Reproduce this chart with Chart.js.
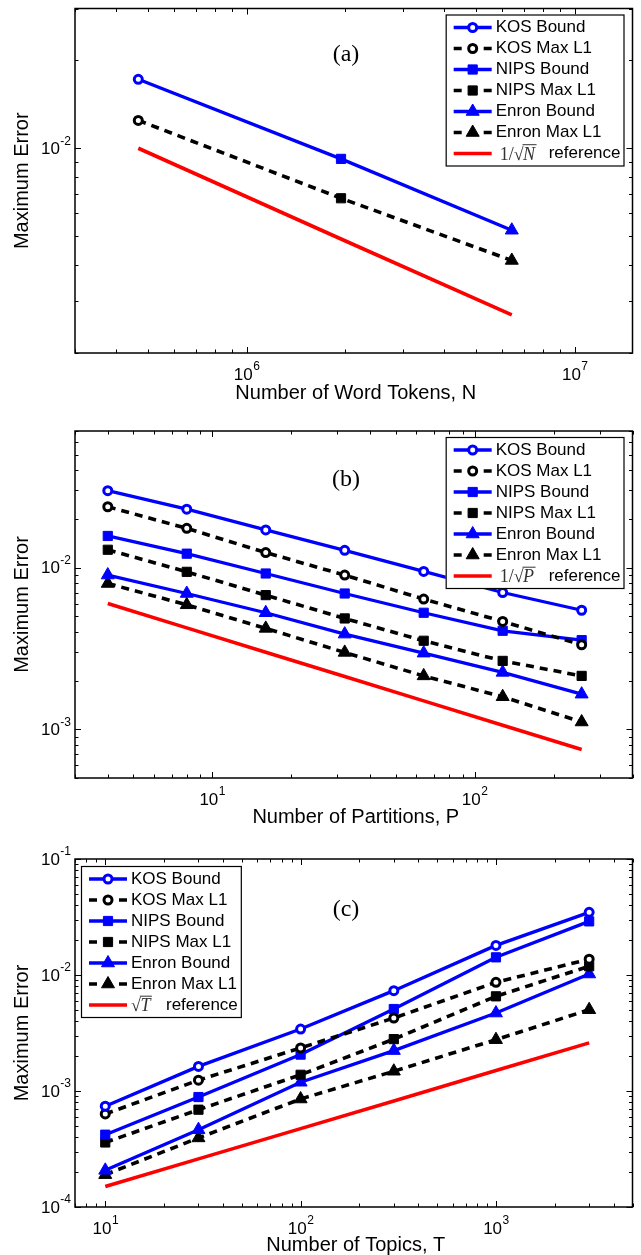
<!DOCTYPE html>
<html>
<head>
<meta charset="utf-8">
<script src="https://cdn.jsdelivr.net/npm/chart.js@4.4.0/dist/chart.umd.min.js"></script>
<style>
  body { margin: 0; background: #fff; width: 641px; height: 1255px; overflow: hidden; position: relative; }
  .panel { position: absolute; left: 0; width: 641px; }
</style>
</head>
<body>
<div class="panel" style="top:0;height:410px"><canvas id="chartA"></canvas></div>
<div class="panel" style="top:400px;height:430px"><canvas id="chartB"></canvas></div>
<div class="panel" style="top:820px;height:435px"><canvas id="chartC"></canvas></div>
<script>
// (a) error vs number of word tokens (KOS, NIPS, Enron)
let tokensN = [467714, 1940000, 6430000];
let boundA = [0.0172, 0.0092, 0.00525];
let maxL1A = [0.01245, 0.00675, 0.00414];
let refA = [0.0100, 0.0049, 0.0027];

// (b) error vs number of partitions
let partitionsP = [4, 8, 16, 32, 64, 128, 256];
let kosBoundB = [0.0299, 0.0230, 0.0171, 0.0128, 0.00947, 0.00702, 0.00545];
let kosMaxB = [0.0238, 0.0175, 0.0124, 0.00899, 0.00639, 0.00465, 0.00333];
let nipsBoundB = [0.0157, 0.0122, 0.0092, 0.00692, 0.00526, 0.00407, 0.00356];
let nipsMaxB = [0.0129, 0.00942, 0.00676, 0.00485, 0.00353, 0.00265, 0.00214];
let enronBoundB = [0.0090, 0.00692, 0.00526, 0.00388, 0.00296, 0.00225, 0.00165];
let enronMaxB = [0.00798, 0.00589, 0.00421, 0.00299, 0.00214, 0.00159, 0.00111];
let refB = [0.0060, 0.00424, 0.0030, 0.00212, 0.0015, 0.00106, 0.00075];

// (c) error vs number of topics
let topicsT = [10, 30, 100, 300, 1000, 3000];
let kosBoundC = [0.00074, 0.00163, 0.00342, 0.00733, 0.0180, 0.0347];
let kosMaxC = [0.000634, 0.00124, 0.00235, 0.00426, 0.00865, 0.0137];
let nipsBoundC = [0.00042, 0.000887, 0.00206, 0.00509, 0.0142, 0.0290];
let nipsMaxC = [0.00036, 0.00069, 0.00138, 0.0028, 0.00655, 0.0119];
let enronBoundC = [0.000207, 0.000464, 0.00119, 0.00223, 0.0047, 0.0102];
let enronMaxC = [0.00019, 0.000394, 0.000853, 0.00148, 0.00277, 0.00502];
let refC = [0.00015, 0.00026, 0.000474, 0.00082, 0.0015, 0.0026];

// axis ranges
let xRangeA = [3e5, 1.5e7], yRangeA = [2e-3, 3e-2];
let xRangeB = [3, 400], yRangeB = [5e-4, 7e-2];
let xRangeC = [7, 5000], yRangeC = [1e-4, 1e-1];

let legendLabels = ["KOS Bound", "KOS Max L1", "NIPS Bound", "NIPS Max L1", "Enron Bound", "Enron Max L1", "reference"];

const BLUE = "#0000ff", BLACK = "#000000", RED = "#ff0000";
const SANS = '"Liberation Sans", Arial, sans-serif';
const SERIF = '"Liberation Serif", "Times New Roman", serif';

// line + marker look for each legend entry
let styles = [
    {color: BLUE, dash: [], point: "circle"},
    {color: BLACK, dash: [8, 6], point: "circle"},
    {color: BLUE, dash: [], point: "rect"},
    {color: BLACK, dash: [8, 6], point: "rect"},
    {color: BLUE, dash: [], point: "triangle"},
    {color: BLACK, dash: [8, 6], point: "triangle"},
    {color: RED, dash: [], point: null}
];

function markerOpts(point, color) {
    if (point === "circle") return {r: 4, bw: 3, bg: "#ffffff"};
    if (point === "rect") return {r: 6.5, bw: 1, bg: color};
    if (point === "triangle") return {r: 7.5, bw: 1, bg: color};
    return {r: 0, bw: 0, bg: color};
}

function lineWidthFor(s) {
    return s.color === BLUE ? 3.3 : 3.6;
}

// one dataset from x/y arrays and a style
function series(xs, ys, s) {
    let m = markerOpts(s.point, s.color);
    return {
        data: xs.map((x, i) => ({x: x, y: ys[i]})),
        borderColor: s.color,
        borderWidth: lineWidthFor(s),
        borderDash: s.dash,
        pointStyle: s.point || "circle",
        pointRadius: m.r,
        pointBorderWidth: m.bw,
        pointBackgroundColor: m.bg,
        pointBorderColor: s.color,
        tension: 0,
        fill: false
    };
}

// (a) has one point per corpus joined by one line, markers change per point
function mixedSeries(xs, ys, s, points) {
    let d = series(xs, ys, s);
    let ms = points.map(p => markerOpts(p, s.color));
    d.pointStyle = points;
    d.pointRadius = ms.map(m => m.r);
    d.pointBorderWidth = ms.map(m => m.bw);
    d.pointBackgroundColor = ms.map(m => m.bg);
    return d;
}

function logTicks(min, max) {
    let out = [];
    for (let k = Math.floor(Math.log10(min)); k <= Math.ceil(Math.log10(max)); k++) {
        for (let m = 1; m <= 9; m++) {
            let v = m * Math.pow(10, k);
            if (v >= min * 0.999 && v <= max * 1.001) out.push({v: v, major: m === 1, k: k});
        }
    }
    return out;
}

function drawMarker(ctx, point, color, x, y) {
    let m = markerOpts(point, color);
    ctx.save();
    ctx.setLineDash([]);
    ctx.fillStyle = m.bg;
    ctx.strokeStyle = color;
    ctx.lineWidth = m.bw;
    ctx.beginPath();
    if (point === "circle") {
        ctx.arc(x, y, m.r, 0, Math.PI * 2);
    } else if (point === "rect") {
        let h = Math.SQRT1_2 * m.r;
        ctx.rect(x - h, y - h, 2 * h, 2 * h);
    } else if (point === "triangle") {
        let a = 0;
        ctx.moveTo(x + Math.sin(a) * m.r, y - Math.cos(a) * m.r);
        a += Math.PI * 2 / 3;
        ctx.lineTo(x + Math.sin(a) * m.r, y - Math.cos(a) * m.r);
        a += Math.PI * 2 / 3;
        ctx.lineTo(x + Math.sin(a) * m.r, y - Math.cos(a) * m.r);
        ctx.closePath();
    }
    ctx.fill();
    ctx.stroke();
    ctx.restore();
}

// offset of the word "reference" after the math part
function refOffset(one) {
    return one ? 53 : 35;
}

// "1/sqrt(N)" style label followed by "reference"
function drawRefLabel(ctx, x, y, one, letter) {
    ctx.save();
    ctx.fillStyle = "#333";
    ctx.textBaseline = "alphabetic";
    let base = y + 6;
    let cx = x;
    ctx.font = "18px " + SERIF;
    if (one) {
        cx += 4;
        ctx.fillText("1/", cx, base);
        cx += ctx.measureText("1/").width;
    }
    ctx.fillText("\u221A", cx, base);
    let sw = ctx.measureText("\u221A").width;
    cx += sw - 0.5;
    ctx.font = "italic 18px " + SERIF;
    let lw = ctx.measureText(letter).width;
    ctx.fillText(letter, cx, base);
    ctx.strokeStyle = "#333";
    ctx.lineWidth = 1;
    ctx.beginPath();
    ctx.moveTo(cx - 0.5, base - 14.8);
    ctx.lineTo(cx + lw + 1.5, base - 14.8);
    ctx.stroke();
    ctx.fillStyle = "#000";
    ctx.font = "17px " + SANS;
    ctx.textBaseline = "middle";
    ctx.fillText("reference", x + refOffset(one), y);
    ctx.restore();
}

const matlabAxes = {
    id: "matlabAxes",
    afterDatasetsDraw(chart, args, opts) {
        const ctx = chart.ctx;
        const a = chart.chartArea;
        const xs = chart.scales.x, ys = chart.scales.y;
        ctx.save();

        // box
        ctx.strokeStyle = "#000";
        ctx.lineWidth = 1.5;
        ctx.setLineDash([]);
        ctx.strokeRect(a.left, a.top, a.right - a.left, a.bottom - a.top);

        // ticks inside on all four sides
        ctx.lineWidth = 1;
        ctx.beginPath();
        logTicks(xs.min, xs.max).forEach(t => {
            let px = Math.round(xs.getPixelForValue(t.v)) + 0.5;
            let len = t.major ? 6 : 3.5;
            ctx.moveTo(px, a.bottom); ctx.lineTo(px, a.bottom - len);
            ctx.moveTo(px, a.top); ctx.lineTo(px, a.top + len);
        });
        logTicks(ys.min, ys.max).forEach(t => {
            let py = Math.round(ys.getPixelForValue(t.v)) + 0.5;
            let len = t.major ? 6 : 3.5;
            ctx.moveTo(a.left, py); ctx.lineTo(a.left + len, py);
            ctx.moveTo(a.right, py); ctx.lineTo(a.right - len, py);
        });
        ctx.stroke();

        // decade labels 10^k
        ctx.fillStyle = "#000";
        ctx.textBaseline = "middle";
        logTicks(xs.min, xs.max).filter(t => t.major).forEach(t => {
            let px = xs.getPixelForValue(t.v);
            ctx.font = "17px " + SANS;
            let wb = ctx.measureText("10").width;
            ctx.font = "12px " + SANS;
            let we = ctx.measureText(String(t.k)).width;
            let left = px - (wb + we) / 2;
            ctx.font = "17px " + SANS;
            ctx.textAlign = "left";
            ctx.fillText("10", left, a.bottom + 22);
            ctx.font = "12px " + SANS;
            ctx.fillText(String(t.k), left + wb + 0.5, a.bottom + 14);
        });
        logTicks(ys.min, ys.max).filter(t => t.major).forEach(t => {
            let py = ys.getPixelForValue(t.v);
            ctx.font = "12px " + SANS;
            let we = ctx.measureText(String(t.k)).width;
            let right = a.left - 4;
            ctx.textAlign = "left";
            ctx.fillText(String(t.k), right - we, py - 7);
            ctx.textAlign = "right";
            ctx.font = "17px " + SANS;
            ctx.fillText("10", right - we - 0.5, py + 1);
        });

        // axis titles
        ctx.font = "20px " + SANS;
        ctx.textAlign = "center";
        ctx.fillText(opts.xTitle, (a.left + a.right) / 2 + 2, opts.xTitleY);
        ctx.save();
        ctx.translate(22, (a.top + a.bottom) / 2);
        ctx.rotate(-Math.PI / 2);
        ctx.fillText("Maximum Error", 0, 0);
        ctx.restore();

        // panel tag
        ctx.font = "24px " + SERIF;
        ctx.fillText(opts.panel, 346, opts.panelY);

        // legend
        ctx.font = "17px " + SANS;
        let textW = 0;
        legendLabels.slice(0, 6).forEach(l => { textW = Math.max(textW, ctx.measureText(l).width); });
        textW = Math.max(textW, refOffset(opts.refOne) + ctx.measureText("reference").width);
        let bw = 8 + 38 + 4 + textW + 3;
        let bh = 151;
        let bx = opts.legend === "ne" ? a.right - 9 - bw : a.left + 6;
        let by = opts.legend === "ne" ? a.top + 6 : a.top + 7;
        ctx.fillStyle = "#fff";
        ctx.fillRect(bx, by, bw, bh);
        ctx.strokeStyle = "#000";
        ctx.lineWidth = 1.2;
        ctx.strokeRect(bx + 0.5, by + 0.5, bw, bh);
        legendLabels.forEach((label, i) => {
            let s = styles[i];
            let cy = by + 13 + i * 21;
            let x0 = bx + 8, x1 = x0 + 38;
            ctx.strokeStyle = s.color;
            ctx.lineWidth = lineWidthFor(s);
            ctx.beginPath();
            if (s.dash.length) {
                ctx.moveTo(x0, cy); ctx.lineTo(x0 + 8, cy);
                ctx.moveTo(x1 - 8, cy); ctx.lineTo(x1, cy);
            } else {
                ctx.moveTo(x0, cy); ctx.lineTo(x1, cy);
            }
            ctx.stroke();
            if (s.point) drawMarker(ctx, s.point, s.color, (x0 + x1) / 2, cy);
            ctx.fillStyle = "#000";
            ctx.textAlign = "left";
            ctx.textBaseline = "middle";
            ctx.font = "17px " + SANS;
            if (s.point) {
                ctx.fillText(label, x1 + 4, cy);
            } else {
                drawRefLabel(ctx, x1 + 4, cy, opts.refOne, opts.refLetter);
            }
        });
        ctx.restore();
    }
};

function makeChart(id, datasets, xr, yr, pad, extra) {
    return new Chart(document.getElementById(id), {
        type: "line",
        data: {datasets: datasets},
        options: {
            animation: false,
            responsive: true,
            maintainAspectRatio: false,
            layout: {padding: pad},
            scales: {
                x: {type: "logarithmic", min: xr[0], max: xr[1], display: false},
                y: {type: "logarithmic", min: yr[0], max: yr[1], display: false}
            },
            plugins: {
                legend: {display: false},
                tooltip: {enabled: false},
                matlabAxes: extra
            }
        },
        plugins: [matlabAxes]
    });
}

// (a)
makeChart("chartA", [
    mixedSeries(tokensN, boundA, styles[0], ["circle", "rect", "triangle"]),
    mixedSeries(tokensN, maxL1A, styles[1], ["circle", "rect", "triangle"]),
    series(tokensN, refA, styles[6])
], xRangeA, yRangeA, {left: 75, right: 4, top: 6, bottom: 57},
    {panel: "(a)", panelY: 55, xTitle: "Number of Word Tokens, N", xTitleY: 393, legend: "ne", refOne: true, refLetter: "N"});

// (b)
makeChart("chartB", [
    series(partitionsP, kosBoundB, styles[0]),
    series(partitionsP, kosMaxB, styles[1]),
    series(partitionsP, nipsBoundB, styles[2]),
    series(partitionsP, nipsMaxB, styles[3]),
    series(partitionsP, enronBoundB, styles[4]),
    series(partitionsP, enronMaxB, styles[5]),
    series(partitionsP, refB, styles[6])
], xRangeB, yRangeB, {left: 75, right: 4, top: 31, bottom: 52},
    {panel: "(b)", panelY: 80, xTitle: "Number of Partitions, P", xTitleY: 417, legend: "ne", refOne: true, refLetter: "P"});

// (c)
makeChart("chartC", [
    series(topicsT, kosBoundC, styles[0]),
    series(topicsT, kosMaxC, styles[1]),
    series(topicsT, nipsBoundC, styles[2]),
    series(topicsT, nipsMaxC, styles[3]),
    series(topicsT, enronBoundC, styles[4]),
    series(topicsT, enronMaxC, styles[5]),
    series(topicsT, refC, styles[6])
], xRangeC, yRangeC, {left: 75, right: 4, top: 39, bottom: 48},
    {panel: "(c)", panelY: 90, xTitle: "Number of Topics, T", xTitleY: 425, legend: "nw", refOne: false, refLetter: "T"});
</script>
</body>
</html>
